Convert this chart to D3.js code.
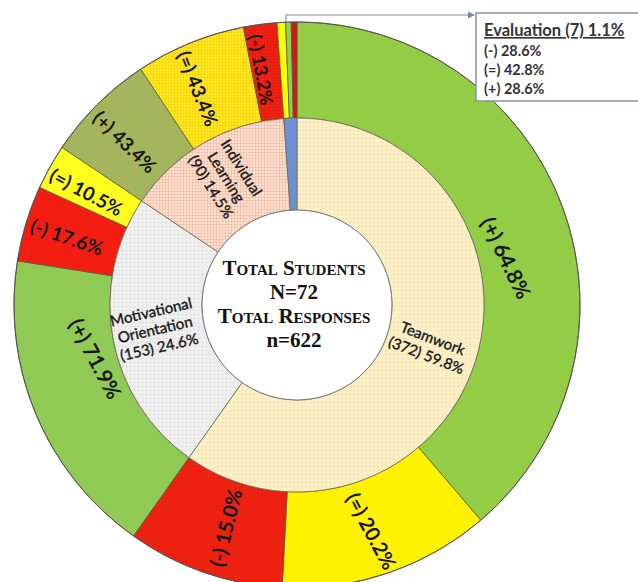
<!DOCTYPE html>
<html>
	<head>
		<script src="https://d3js.org/d3.v7.min.js"></script>
		<style>
			body { margin: 0; background: #fff; }
		</style>
	</head>
	<body>
		<script>

			// chart values
			var categories = ["Teamwork", "Motivational Orientation", "Individual Learning", "Evaluation"];
			var responses = [372, 153, 90, 7];
			var category_share = ["59.8%", "24.6%", "14.5%", "1.1%"];
			var rating_labels = [["(+)", "(=)", "(-)"], ["(+)", "(-)", "(=)"], ["(+)", "(=)", "(-)"], ["(=)", "(+)", "(-)"]];
			var rating_shares = [[64.8, 20.2, 15.0], [71.9, 17.6, 10.5], [43.4, 43.4, 13.2], [42.8, 28.6, 28.6]];
			var evaluation_lines = ["(-) 28.6%", "(=) 42.8%", "(+) 28.6%"];
			var center_lines = ["Total Students", "N=72", "Total Responses", "n=622"];

			// fills
			var inner_fills = ["url(#dots_cream)", "url(#dots_grey)", "url(#grid_peach)", "#6f90cf"];
			var outer_fills = [
				["#92cd45", "#fff200", "url(#dots_red)"],
				["#8fca55", "#f51c12", "#ffff1e"],
				["url(#grid_olive)", "url(#grid_gold)", "url(#grid_red)"],
				["#ffff00", "#92d050", "#d01818"]
			];

			// label placement: [angle offset deg, radius, rotation, font size]
			var outer_label_pos = [
				[[7.5, 215, 64, 21], [0.4, 238, 62, 20], [-1.3, 234, -76, 20]],
				[[8, 208, 62, 21], [-0.2, 240, 19, 19], [-0.9, 239, 28, 19]],
				[[-1.6, 237, 44, 19], [-2.3, 238, 68, 19], [-1.1, 238, 80, 18]]
			];
			var inner_label_pos = [[0, 139, 21], [0.5, 144, -13], [1, 146, 58]];

			var width = 638, height = 582;
			var cx = 297, cy = 305;
			var r0 = 95, r1 = 187, r2 = 283;

			var svg = d3.select("body").append("svg")
				.attr("width", width)
				.attr("height", height);

			// patterns
			var defs = svg.append("defs");
			function dot_pattern(id, bg, fg) {
				var p = defs.append("pattern").attr("id", id)
					.attr("width", 4).attr("height", 4).attr("patternUnits", "userSpaceOnUse");
				p.append("rect").attr("width", 4).attr("height", 4).attr("fill", bg);
				p.append("rect").attr("x", 1).attr("y", 1).attr("width", 1).attr("height", 1).attr("fill", fg);
			}
			function grid_pattern(id, bg, fg) {
				var p = defs.append("pattern").attr("id", id)
					.attr("width", 3).attr("height", 3).attr("patternUnits", "userSpaceOnUse");
				p.append("rect").attr("width", 3).attr("height", 3).attr("fill", bg);
				p.append("path").attr("d", "M0,0.5H3M0.5,0V3").attr("stroke", fg).attr("stroke-width", 0.5);
			}
			dot_pattern("dots_cream", "#fcefc8", "#e6d6a4");
			dot_pattern("dots_grey", "#eeeeee", "#cfcfcf");
			dot_pattern("dots_red", "#f4200e", "#d01a0c");
			grid_pattern("grid_peach", "#fde0d0", "#eab39a");
			grid_pattern("grid_olive", "#9dbb5a", "#b3a862");
			grid_pattern("grid_gold", "#ffe81c", "#f2cc10");
			grid_pattern("grid_red", "#f42010", "#d81a10");

			var g = svg.append("g").attr("transform", "translate(" + cx + "," + cy + ")");

			var pie = d3.pie().sort(null);
			var inner_arcs = pie(responses);

			var inner_arc = d3.arc().innerRadius(r0).outerRadius(r1);
			var outer_arc = d3.arc().innerRadius(r1).outerRadius(r2);

			// outer ring: split each category slice by rating share
			var outer_arcs = [];
			inner_arcs.forEach(function (a, i) {
				var sub = d3.pie().sort(null)
					.startAngle(a.startAngle).endAngle(a.endAngle)(rating_shares[i]);
				sub.forEach(function (s, j) {
					s.cat = i;
					s.idx = j;
					outer_arcs.push(s);
				});
			});

			g.selectAll(".outer")
				.data(outer_arcs)
				.enter()
				.append("path")
				.attr("class", "outer")
				.attr("d", outer_arc)
				.attr("fill", function (d) { return outer_fills[d.cat][d.idx]; })
				.attr("stroke", "#5c5c3c")
				.attr("stroke-width", 0.8);

			g.selectAll(".inner")
				.data(inner_arcs)
				.enter()
				.append("path")
				.attr("class", "inner")
				.attr("d", inner_arc)
				.attr("fill", function (d, i) { return inner_fills[i]; })
				.attr("stroke", "#6a6a55")
				.attr("stroke-width", 0.8);

			g.append("circle").attr("r", r2).attr("fill", "none")
				.attr("stroke", "#555").attr("stroke-width", 1);
			g.append("circle").attr("r", r0).attr("fill", "#fff")
				.attr("stroke", "#777").attr("stroke-width", 1);

			function polar(deg, r) {
				var a = deg * Math.PI / 180;
				return [Math.sin(a) * r, -Math.cos(a) * r];
			}
			function mid_deg(d) {
				return (d.startAngle + d.endAngle) / 2 * 180 / Math.PI;
			}

			// outer labels
			outer_arcs.forEach(function (d) {
				if (d.cat > 2) return;
				var pos = outer_label_pos[d.cat][d.idx];
				var p = polar(mid_deg(d) + pos[0], pos[1]);
				g.append("text")
					.attr("transform", "translate(" + p[0] + "," + p[1] + ") rotate(" + pos[2] + ")")
					.attr("text-anchor", "middle")
					.attr("dominant-baseline", "central")
					.style("font-family", "Lato, 'Open Sans', sans-serif")
					.style("font-weight", "bold")
					.style("font-size", pos[3] + "px")
					.style("fill", "#161616")
					.text(rating_labels[d.cat][d.idx] + " " + rating_shares[d.cat][d.idx].toFixed(1) + "%");
			});

			// inner labels
			inner_arcs.forEach(function (d, i) {
				if (i > 2) return;
				var pos = inner_label_pos[i];
				var p = polar(mid_deg(d) + pos[0], pos[1]);
				var lines = categories[i].split(" ").concat(["(" + responses[i] + ") " + category_share[i]]);
				var t = g.append("text")
					.attr("transform", "translate(" + p[0] + "," + p[1] + ") rotate(" + pos[2] + ")")
					.attr("text-anchor", "middle")
					.style("font-family", "Lato, 'Open Sans', sans-serif")
					.style("font-size", "15px")
					.style("fill", "#161616")
					.style("stroke", "#161616")
					.style("stroke-width", 0.35);
				lines.forEach(function (line, k) {
					t.append("tspan")
						.attr("x", 0)
						.attr("y", (k - (lines.length - 1) / 2) * 18 + 5)
						.text(line);
				});
			});

			// center text, small caps only on the "Total" lines
			var ct = g.append("text")
				.attr("text-anchor", "middle")
				.style("font-family", "'Liberation Serif', 'Times New Roman', serif")
				.style("font-weight", "bold")
				.style("font-size", "21px")
				.style("fill", "#111");
			center_lines.forEach(function (line, k) {
				ct.append("tspan")
					.attr("x", -3)
					.attr("y", -30 + k * 24)
					.style("font-variant", k % 2 == 0 ? "small-caps" : "normal")
					.text(line);
			});

			// evaluation callout
			defs.append("marker").attr("id", "arrow")
				.attr("viewBox", "0 0 6 6").attr("refX", 5).attr("refY", 3)
				.attr("markerWidth", 6).attr("markerHeight", 6).attr("orient", "auto")
				.append("path").attr("d", "M0,0L6,3L0,6Z").attr("fill", "#7d8aa6");
			var eval_mid = polar(mid_deg(inner_arcs[3]), r2);
			svg.append("path")
				.attr("d", "M" + (cx + eval_mid[0] - 1) + "," + (cy + eval_mid[1]) + "V15H474")
				.attr("fill", "none")
				.attr("stroke", "#8a8f9e")
				.attr("stroke-width", 1.2)
				.attr("marker-end", "url(#arrow)");
			svg.append("rect")
				.attr("x", 476).attr("y", 13).attr("width", 175).attr("height", 88)
				.attr("fill", "#fff").attr("stroke", "#8691a8").attr("stroke-width", 1.5);
			svg.append("text")
				.attr("x", 484).attr("y", 36)
				.style("font-family", "Lato, 'Open Sans', sans-serif")
				.style("font-weight", "bold")
				.style("font-size", "16.5px")
				.style("text-decoration", "underline")
				.style("fill", "#333")
				.text(categories[3] + " (" + responses[3] + ") " + category_share[3]);
			svg.selectAll(".evl")
				.data(evaluation_lines)
				.enter()
				.append("text")
				.attr("class", "evl")
				.attr("x", 484)
				.attr("y", function (d, i) { return 56 + i * 19; })
				.style("font-family", "Lato, 'Open Sans', sans-serif")
				.style("font-weight", "bold")
				.style("font-size", "14.5px")
				.style("fill", "#333")
				.text(function (d) { return d; });

		</script>
	</body>
</html>
